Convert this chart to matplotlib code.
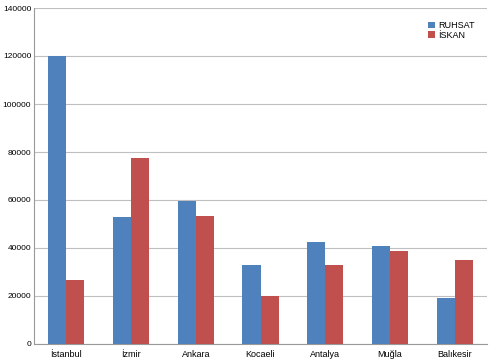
import numpy as np
import matplotlib
matplotlib.use('Agg')
import matplotlib.pyplot as plt

plt.rcParams['font.family'] = ['Liberation Sans', 'DejaVu Sans']

sehirler = ['İstanbul', 'İzmir', 'Ankara', 'Kocaeli', 'Antalya', 'Muğla', 'Balıkesir']
ruhsat = [120000, 53000, 59700, 32800, 42700, 41000, 19300]
iskan = [26800, 77500, 53400, 19800, 32800, 38900, 34800]
yticks = [0, 20000, 40000, 60000, 80000, 100000, 120000, 140000]

fig = plt.figure(figsize=(4.9, 3.6), dpi=100)
ax = fig.add_axes([34 / 490, 16 / 360, 453 / 490, 336 / 360])

x = np.arange(len(sehirler))
w = 0.28
ax.bar(x - w / 2, ruhsat, w, color='#4F81BD', label='RUHSAT', zorder=3)
ax.bar(x + w / 2, iskan, w, color='#C0504D', label='İSKAN', zorder=3)

ax.set_xlim(-0.5, len(sehirler) - 0.5)
ax.set_ylim(0, 140000)
ax.set_yticks(yticks)
ax.set_yticklabels([str(v) for v in yticks])
ax.set_xticks(x)
ax.set_xticklabels(sehirler)
ax.tick_params(labelsize=6.5, length=0)
ax.tick_params(axis='y', labelsize=6, pad=2)
ax.tick_params(axis='x', pad=4)
ax.yaxis.grid(True, color='#bfbfbf', linewidth=0.8, zorder=0)
for s in ['top', 'right']:
    ax.spines[s].set_visible(False)
for s in ['left', 'bottom']:
    ax.spines[s].set_color('#999999')
    ax.spines[s].set_linewidth(0.8)

ax.legend(loc='upper right', frameon=False, fontsize=6.5, handlelength=0.8,
          handleheight=0.8, handletextpad=0.3, labelspacing=0.1,
          bbox_to_anchor=(0.99, 0.985))

fig.savefig('out.png', dpi=100)
